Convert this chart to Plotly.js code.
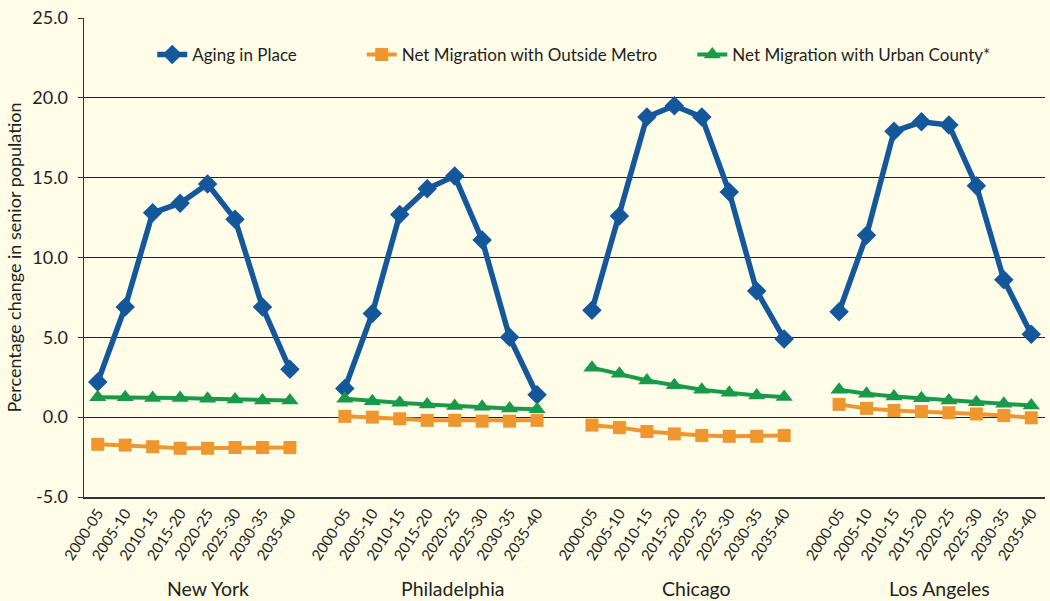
<!DOCTYPE html>
<html>
<head>
<meta charset="utf-8">
<script src="https://cdn.plot.ly/plotly-3.0.1.min.js"></script>
<style>html,body{margin:0;padding:0;background:#FFFDE8;}</style>
</head>
<body>
<div id="chart" style="width:1050px;height:601px;"></div>
<script>
const periods = ['2000-05','2005-10','2010-15','2015-20','2020-25','2025-30','2030-35','2035-40'];
const cities = ['New York','Philadelphia','Chicago','Los Angeles'];
const seriesNames = ['Aging in Place','Net Migration with Outside Metro','Net Migration with Urban County*'];
const yTickVals = [-5, 0, 5, 10, 15, 20, 25];
const yTickText = ['-5.0', '0.0', '5.0', '10.0', '15.0', '20.0', '25.0'];

// Aging in Place
const agingNY  = [2.2, 6.9, 12.8, 13.4, 14.6, 12.4, 6.9, 3.0];
const agingPHL = [1.8, 6.5, 12.7, 14.3, 15.1, 11.1, 5.0, 1.4];
const agingCHI = [6.7, 12.6, 18.8, 19.5, 18.8, 14.1, 7.9, 4.9];
const agingLA  = [6.6, 11.4, 17.9, 18.5, 18.3, 14.5, 8.6, 5.2];

// Net Migration with Outside Metro
const outsideNY  = [-1.7, -1.75, -1.85, -1.95, -1.95, -1.9, -1.9, -1.9];
const outsidePHL = [0.05, 0.0, -0.1, -0.2, -0.2, -0.25, -0.25, -0.2];
const outsideCHI = [-0.5, -0.65, -0.9, -1.05, -1.15, -1.2, -1.2, -1.15];
const outsideLA  = [0.8, 0.55, 0.42, 0.36, 0.28, 0.2, 0.1, -0.04];

// Net Migration with Urban County*
const urbanNY  = [1.25, 1.25, 1.2, 1.2, 1.15, 1.1, 1.05, 1.05];
const urbanPHL = [1.15, 1.0, 0.9, 0.8, 0.7, 0.65, 0.55, 0.5];
const urbanCHI = [3.1, 2.72, 2.3, 2.0, 1.72, 1.53, 1.36, 1.27];
const urbanLA  = [1.72, 1.47, 1.3, 1.19, 1.05, 0.94, 0.84, 0.73];

const groups = {
  aging: [agingNY, agingPHL, agingCHI, agingLA],
  outside: [outsideNY, outsidePHL, outsideCHI, outsideLA],
  urban: [urbanNY, urbanPHL, urbanCHI, urbanLA]
};

const slot = periods.length + 1;
function build(arrs) {
  const xs = [], ys = [];
  arrs.forEach((arr, g) => {
    arr.forEach((v, i) => { xs.push(g * slot + i); ys.push(v); });
    if (g < arrs.length - 1) { xs.push(g * slot + periods.length); ys.push(null); }
  });
  return {x: xs, y: ys};
}

const tickvals = [], ticktext = [];
cities.forEach((c, g) => periods.forEach((p, i) => { tickvals.push(g * slot + i); ticktext.push(p); }));

const styles = [
  {key: 'aging', color: '#14579B', symbol: 'diamond', size: 15, width: 5.5, legend: 'legend'},
  {key: 'outside', color: '#F0962F', symbol: 'square', size: 13, width: 4, legend: 'legend2'},
  {key: 'urban', color: '#199A4B', symbol: 'triangle-up', size: 15, width: 4, legend: 'legend3'}
];

const traces = styles.map((s, k) => {
  const d = build(groups[s.key]);
  return {
    type: 'scatter', mode: 'lines+markers', name: seriesNames[k],
    x: d.x, y: d.y, connectgaps: false, legend: s.legend,
    line: {color: s.color, width: s.width},
    marker: {color: s.color, symbol: s.symbol, size: s.size}
  };
});

const font = 'Lato, "Open Sans", sans-serif';
const txt = '#231F20';
const cityX = [4.03, 12.94, 21.82, 30.67];

const legendBase = {orientation: 'h', bgcolor: 'rgba(0,0,0,0)', borderwidth: 0,
  yanchor: 'middle', xanchor: 'left', font: {family: font, size: 17, color: txt}};

const layout = {
  width: 1050, height: 601,
  margin: {l: 84, r: 5, t: 18, b: 104},
  paper_bgcolor: '#FFFDE8', plot_bgcolor: '#FFFDE8',
  font: {family: font, color: txt},
  xaxis: {
    range: [-0.5, cities.length * slot - 1.5],
    tickmode: 'array', tickvals: tickvals, ticktext: ticktext,
    tickangle: -57, tickfont: {family: font, size: 15, color: txt},
    showgrid: false, zeroline: false, showline: true, linecolor: '#333', linewidth: 1.5,
    ticks: ''
  },
  yaxis: {
    range: [-5, 25], tickmode: 'array', tickvals: yTickVals, ticktext: yTickText,
    tickfont: {family: font, size: 18, color: txt},
    showgrid: true, gridcolor: '#222', gridwidth: 1.2,
    zeroline: false, showline: true, linecolor: '#333', linewidth: 1.5,
    ticks: 'outside', ticklen: 5, tickcolor: '#333', ticklabelstandoff: 6,
    title: {text: 'Percentage change in senior population', font: {family: font, size: 18, color: txt}, standoff: 6}
  },
  showlegend: true,
  legend: Object.assign({}, legendBase, {x: 0.071, y: 0.923}),
  legend2: Object.assign({}, legendBase, {x: 0.289, y: 0.923}),
  legend3: Object.assign({}, legendBase, {x: 0.633, y: 0.923}),
  annotations: cities.map((c, g) => ({
    text: c, x: cityX[g], xref: 'x', y: -0.19, yref: 'paper',
    xanchor: 'center', yanchor: 'middle', showarrow: false,
    font: {family: font, size: 19.5, color: txt}
  }))
};

Plotly.newPlot('chart', traces, layout, {displayModeBar: false, staticPlot: true});
</script>
</body>
</html>
